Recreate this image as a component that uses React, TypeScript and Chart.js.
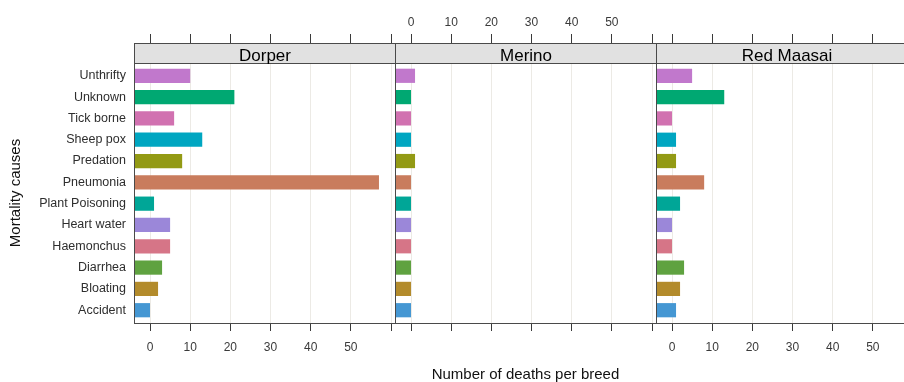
import React, { useEffect, useRef } from 'react';
import { Chart, registerables } from 'chart.js';

Chart.register(...registerables);

// Categories listed bottom-to-top (lattice order)
const causes = ['Accident', 'Bloating', 'Diarrhea', 'Haemonchus', 'Heart water', 'Plant Poisoning', 'Pneumonia', 'Predation', 'Sheep pox', 'Tick borne', 'Unknown', 'Unthrifty'];
const breeds = ['Dorper', 'Merino', 'Red Maasai'];
const dorper = [0, 2, 3, 5, 5, 1, 57, 8, 13, 6, 21, 10];
const merino = [0, 0, 0, 0, 0, 0, 0, 1, 0, 0, 0, 1];
const redMaasai = [1, 2, 3, 0, 0, 2, 8, 1, 1, 0, 13, 5];
const causeColors = ['#4597D3', '#B38B2B', '#5FA240', '#D67587', '#9B87D9', '#00A697', '#C97C5D', '#939A14', '#00A6C1', '#D171B0', '#00A872', '#C178CC'];
const xTicks = [0, 10, 20, 30, 40, 50, 60];
const xTickLabels = ['0', '10', '20', '30', '40', '50', ''];

const X_MIN = -3.99;
const X_MAX = 60.99;
const FONT = '"Liberation Sans", Arial, Helvetica, sans-serif';
const STRIP_H = 20;

function makeX(position: 'top' | 'bottom', showLabels: boolean, title?: string) {
  const top = position === 'top';
  return {
    type: 'linear',
    position,
    stack: top ? 'topStack' : 'bottomStack',
    stackWeight: 1,
    min: X_MIN,
    max: X_MAX,
    offset: false,
    afterBuildTicks: (s: any) => {
      s.ticks = xTicks.map((v) => ({ value: v }));
    },
    afterFit: (s: any) => {
      s.height = top ? 63 : 59;
      s.paddingLeft = 0;
      s.paddingRight = 0;
    },
    border: { display: false },
    grid: {
      display: true,
      offset: false,
      drawOnChartArea: !top,
      drawTicks: true,
      tickLength: top ? 29 : 8,
      color: '#ECEAE5',
      tickColor: '#3A3A3A',
      lineWidth: 1,
      tickWidth: 1,
    },
    ticks: {
      display: showLabels,
      autoSkip: false,
      maxRotation: 0,
      minRotation: 0,
      padding: top ? 4.5 : 9,
      color: '#3A3A3A',
      font: { family: FONT, size: 12 },
      callback: (v: any) => {
        const i = xTicks.indexOf(v);
        return i >= 0 ? xTickLabels[i] : '';
      },
    },
    title: title
      ? {
          display: true,
          text: title,
          color: '#111',
          font: { family: FONT, size: 15, lineHeight: 1 },
          padding: { top: 0, bottom: 0 },
        }
      : { display: false },
  };
}

const facetPlugin = {
  id: 'facetStrips',
  afterDraw(chart: any) {
    const ctx = chart.ctx;
    const { top, bottom } = chart.chartArea;
    ['x1', 'x2', 'x3'].forEach((id, i) => {
      const s = chart.scales[id];
      const l = Math.round(s.left) + 0.5;
      const r = Math.round(s.right) + 0.5;
      const t = Math.round(top) + 0.5;
      const b = Math.round(bottom) + 0.5;
      ctx.save();
      ctx.fillStyle = '#E1E1E1';
      ctx.fillRect(l, t - STRIP_H, r - l, STRIP_H);
      ctx.strokeStyle = '#4A4A4A';
      ctx.lineWidth = 1;
      ctx.strokeRect(l, t - STRIP_H, r - l, STRIP_H);
      ctx.strokeRect(l, t, r - l, b - t);
      ctx.fillStyle = '#000';
      ctx.font = `17px ${FONT}`;
      ctx.textAlign = 'center';
      ctx.textBaseline = 'alphabetic';
      ctx.fillText(breeds[i], (l + r) / 2, t - 2.5);
      ctx.restore();
    });
  },
};

export default function App() {
  const ref = useRef<HTMLCanvasElement | null>(null);

  useEffect(() => {
    if (!ref.current) return;
    const series = [dorper, merino, redMaasai];
    const chart = new Chart(ref.current, {
      type: 'bar',
      data: {
        datasets: series.map((vals, k) => ({
          label: breeds[k],
          data: vals.map((v, i) => ({ x: v, y: i + 1 })),
          backgroundColor: causeColors,
          borderWidth: 0,
          base: X_MIN,
          grouped: false,
          xAxisID: 'x' + (k + 1),
          yAxisID: 'y',
          barPercentage: 0.667,
          categoryPercentage: 1,
        })),
      },
      options: {
        indexAxis: 'y',
        animation: false,
        responsive: false,
        maintainAspectRatio: false,
        layout: { padding: { left: 0, right: 3, top: 0, bottom: 0 } },
        plugins: { legend: { display: false }, tooltip: { enabled: false }, title: { display: false } },
        scales: {
          y: {
            type: 'linear',
            position: 'left',
            min: 0.4,
            max: 12.6,
            offset: false,
            afterBuildTicks: (s: any) => {
              s.ticks = causes.map((_, i) => ({ value: i + 1 }));
            },
            afterFit: (s: any) => {
              s.width = 134;
              s.paddingTop = 0;
              s.paddingBottom = 0;
            },
            border: { display: false },
            grid: { display: false, drawTicks: false, offset: false },
            ticks: {
              autoSkip: false,
              padding: 8,
              color: '#2E2E2E',
              font: { family: FONT, size: 12.5 },
              callback: (v: any) => causes[Math.round(v) - 1] ?? '',
            },
            title: {
              display: true,
              text: 'Mortality causes',
              color: '#111',
              font: { family: FONT, size: 15, lineHeight: 1 },
              padding: { top: 8, bottom: 0 },
            },
          },
          x1: makeX('bottom', true),
          x2: makeX('bottom', false, 'Number of deaths per breed'),
          x3: makeX('bottom', true),
          t1: makeX('top', false),
          t2: makeX('top', true),
          t3: makeX('top', false),
        } as any,
      },
      plugins: [facetPlugin],
    } as any);
    return () => chart.destroy();
  }, []);

  return (
    <div style={{ position: 'fixed', left: 0, top: 0, width: 904, height: 382, overflow: 'hidden', background: '#fff' }}>
      <canvas ref={ref} width={920} height={382} style={{ display: 'block', width: 920, height: 382 }} />
    </div>
  );
}
